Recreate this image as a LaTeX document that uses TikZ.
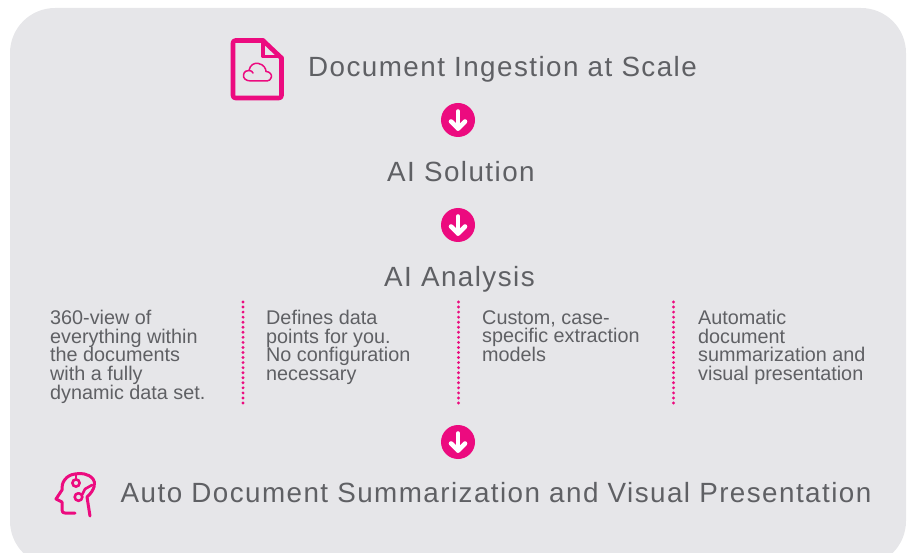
\documentclass[tikz,border=0pt]{standalone}
\usepackage{fontspec}
\setmainfont{Liberation Sans}
\newfontfamily\headfont[LetterSpace=5.2]{Liberation Sans}
\definecolor{panel}{HTML}{E6E6E9}
\definecolor{pinkc}{HTML}{EC0B7F}
\definecolor{textc}{HTML}{5F6064}
\tikzset{
 head/.style={anchor=base west,inner sep=0pt,text=textc,font=\headfont\fontsize{27.8}{30}\selectfont},
 body/.style={anchor=north west,inner sep=0pt,text=textc,align=left,font=\fontsize{19.8}{18.7}\selectfont},
 flowdot/.style={circle,fill=pinkc,minimum size=34pt,inner sep=0pt},
 sep/.style={pinkc,line width=3.2pt,line cap=round,dash pattern=on 0pt off 5.05pt},
 wharrow/.style={white,line width=4.6pt,line cap=round,line join=round},
 icon/.style={pinkc,line cap=round,line join=round},
}
\begin{document}
\begin{tikzpicture}[x=1pt,y=-1pt]
\useasboundingbox (0,0) rectangle (910,553);
\fill[panel,rounded corners=45pt] (10,8) rectangle (906,566);
% file icon
\draw[icon,line width=4.6pt,rounded corners=2.5pt] (263,40.5) -- (233,40.5) -- (233,98) -- (281.5,98) -- (281.5,58);
\draw[icon,line width=4.6pt] (263,40.5) -- (281.5,58);
\draw[icon,line width=3.4pt] (263,40.5) -- (263,56.5) -- (281.5,56.5);
\draw[icon,line width=1.5pt] (251,81) .. controls (245,81) and (243,77.5) .. (243.5,75) .. controls (244,71.5) and (247,70) .. (249,70.5) .. controls (250,65) and (254,62.5) .. (258.5,63.5) .. controls (264,64.5) and (266,69) .. (266,71.5) .. controls (270,71.5) and (272,75) .. (271.5,77) .. controls (271,79.5) and (269,81) .. (267,81) -- cycle;
\draw[icon,line width=1.5pt] (249,70.5) .. controls (251,70.5) and (252.5,71.5) .. (253,73);
% headings
\node[head] (h1) at (308,76.5) {Document Ingestion at Scale};
\node[head] (h2) at (387,181.5) {AI Solution};
\node[head] (h3) at (384,286.5) {AI Analysis};
\node[head] (h4) at (120.5,502.5) {Auto Document Summarization and Visual Presentation};
% round arrows
\node[flowdot] (a1) at (458,120) {};
\node[flowdot] (a2) at (458,225) {};
\node[flowdot] (a3) at (458,442) {};
\foreach \n in {a1,a2,a3}{
  \draw[wharrow] ([yshift=8.5pt]\n.center) -- ([yshift=-8.5pt]\n.center);
  \draw[wharrow] ([xshift=-7pt,yshift=-1.5pt]\n.center) -- ([yshift=-8.5pt]\n.center) -- ([xshift=7pt,yshift=-1.5pt]\n.center);
}
% columns
\node[body] (c1) at (50,310) {360-view of\\everything within\\the documents\\with a fully\\dynamic data set.};
\node[body] (c2) at (266,310) {Defines data\\points for you.\\No configuration\\necessary};
\node[body] (c3) at (482,310) {Custom, case-\\specific extraction\\models};
\node[body] (c4) at (698,310) {Automatic\\document\\summarization and\\visual presentation};
% separators
\coordinate (s1t) at (243,302); \coordinate (s1b) at (243,404);
\coordinate (s2t) at (458.5,302); \coordinate (s2b) at (458.5,404);
\coordinate (s3t) at (673.5,302); \coordinate (s3b) at (673.5,404);
\draw[sep] (s1t) -- (s1b);
\draw[sep] (s2t) -- (s2b);
\draw[sep] (s3t) -- (s3b);
% head icon
\draw[icon,line width=3pt] (90,516) -- (87,497) .. controls (95,490) and (96,482) .. (93,479) .. controls (88,473) and (80,473) .. (75,474) .. controls (66,475) and (61,483) .. (62,490) -- (56,499) -- (62,502) -- (62,510) .. controls (62,512) and (63,513) .. (65,513) -- (75,513);
\draw[icon,line width=2.6pt] (76,483) circle (3.6pt);
\draw[icon,line width=2.6pt] (78.5,497) circle (3.8pt);
\draw[icon,line width=2.6pt] (76,475) -- (76,479);
\draw[icon,line width=2.6pt] (82,495) -- (85,489) -- (92,485);
\end{tikzpicture}
\end{document}
